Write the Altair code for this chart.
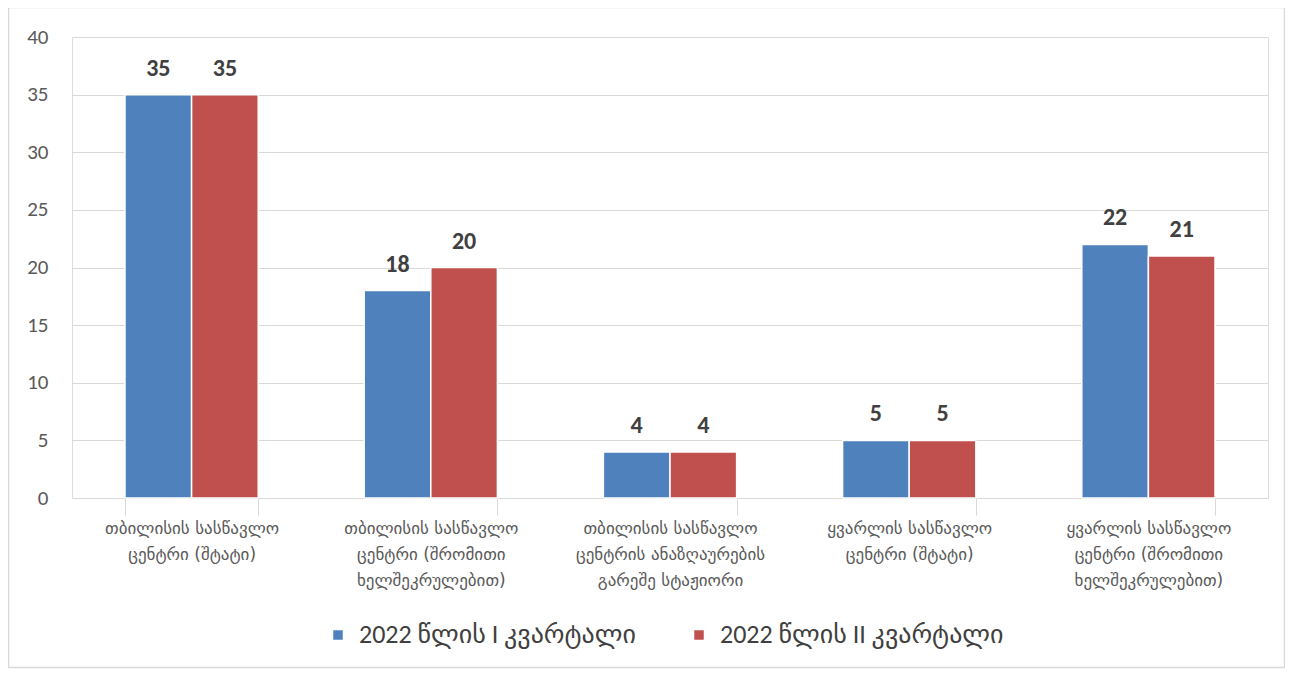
import altair as alt
import pandas as pd

categories = [
    "თბილისის სასწავლო\nცენტრი (შტატი)",
    "თბილისის სასწავლო\nცენტრი (შრომითი\nხელშეკრულებით)",
    "თბილისის სასწავლო\nცენტრის ანაზღაურების\nგარეშე სტაჟიორი",
    "ყვარლის სასწავლო\nცენტრი (შტატი)",
    "ყვარლის სასწავლო\nცენტრი (შრომითი\nხელშეკრულებით)",
]
series = ["2022 წლის I კვარტალი", "2022 წლის II კვარტალი"]
q1_values = [35, 18, 4, 5, 22]
q2_values = [35, 20, 4, 5, 21]
colors = ["#4f81bd", "#c0504d"]
y_ticks = [0, 5, 10, 15, 20, 25, 30, 35, 40]

rows = []
for c, a, b in zip(categories, q1_values, q2_values):
    rows.append({"category": c, "series": series[0], "value": a})
    rows.append({"category": c, "series": series[1], "value": b})
df = pd.DataFrame(rows)

FONT = "Carlito, Calibri, Lato, DejaVu Sans"
W, H = 1196, 461

x_enc = alt.X(
    "category:N",
    sort=categories,
    scale=alt.Scale(paddingInner=0.443, paddingOuter=0.2215),
    axis=alt.Axis(
        title=None,
        labelExpr="split(datum.label, '\\n')",
        labelAngle=0,
        labelLineHeight=26,
        labelLimit=0,
        labelBaseline="top",
        tickBand="extent",
        grid=False,
    ),
)
xoff = alt.XOffset("series:N", sort=series, scale=alt.Scale(paddingInner=0.0))
y_enc = alt.Y(
    "value:Q",
    scale=alt.Scale(domain=[0, 40], nice=False),
    axis=alt.Axis(title=None, values=y_ticks, domain=False, ticks=False),
)

bars = alt.Chart(df).mark_bar(stroke="white", strokeWidth=1.5).encode(
    x=x_enc,
    xOffset=xoff,
    y=y_enc,
    color=alt.Color(
        "series:N",
        sort=series,
        scale=alt.Scale(domain=series, range=colors),
        legend=alt.Legend(
            title=None,
            orient="none",
            legendX=253,
            legendY=585,
            direction="horizontal",
            symbolType="square",
            symbolSize=90,
            symbolStrokeWidth=0,
            labelFontSize=26,
            labelColor="#404040",
            labelFont=FONT,
            labelLimit=0,
            labelOffset=8,
            columnPadding=50,
        ),
    ),
)

labels = alt.Chart(df).mark_text(
    baseline="bottom", dy=-14, fontSize=24, fontWeight="bold", color="#404040", font=FONT
).encode(
    x=x_enc,
    xOffset=xoff,
    y=y_enc,
    text="value:Q",
)

border = alt.Chart(pd.DataFrame({"a": [0]})).mark_rect(
    fill="transparent", stroke="#d9d9d9", strokeWidth=1.5
).encode(
    x=alt.value(-63.5), x2=alt.value(1212.5), y=alt.value(-29.5), y2=alt.value(630.5)
)

chart = (
    alt.layer(border, bars, labels)
    .properties(
        width=W,
        height=H,
        autosize=alt.AutoSizeParams(type="none"),
        padding={"left": 64, "top": 29, "right": 17, "bottom": 172},
    )
    .configure_view(stroke=None)
    .configure(background="white")
    .configure_axisY(
        labelFontSize=21,
        labelColor="#595959",
        labelFont="Liberation Sans Narrow, Carlito, Open Sans",
        labelPadding=24,
        gridColor="#d9d9d9",
        gridWidth=1,
    )
    .configure_axisX(
        labelFontSize=17,
        labelColor="#595959",
        labelFont="DejaVu Sans",
        labelPadding=5,
        tickSize=17,
        tickColor="#d9d9d9",
        domainColor="#d9d9d9",
    )
)

chart.save("out.html", embed_options={"renderer": "svg", "actions": False})
